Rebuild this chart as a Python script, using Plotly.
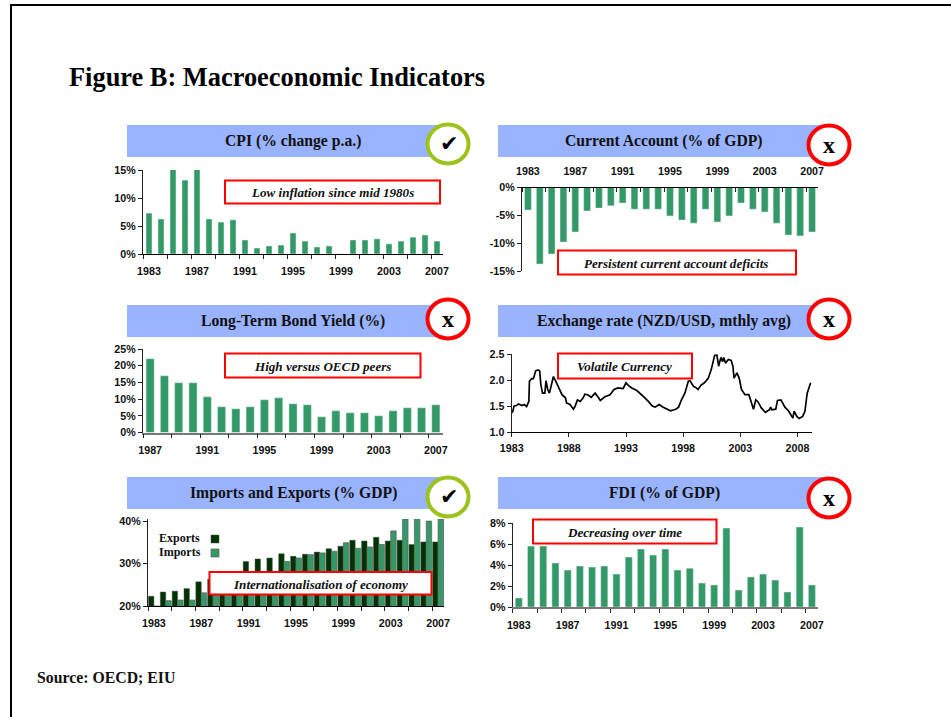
import plotly.graph_objects as go

W, H = 951, 717
GREEN = "#339966"
DARK = "#003300"
HEADER = "#99B3FF"
SANS = "Liberation Sans"
SERIF = "Liberation Serif"

years_83 = list(range(1983, 2008))
years_87 = list(range(1987, 2008))

cpi = [7.3, 6.25, 15.4, 13.2, 15.4, 6.25, 5.7, 6.1, 2.5, 1.07, 1.43, 1.6, 3.75, 2.3, 1.25, 1.43, 0, 2.5, 2.5, 2.7, 1.8, 2.3, 3.0, 3.4, 2.3]
current_account = [-4.06, -13.75, -11.95, -9.8, -8.0, -4.2, -3.7, -3.3, -2.8, -3.9, -3.9, -3.9, -5.1, -5.85, -6.4, -3.9, -6.2, -5.1, -2.8, -3.9, -4.4, -6.4, -8.55, -8.7, -8.0]
bond_yield = [22.1, 17, 14.9, 14.9, 10.7, 7.7, 7.1, 7.7, 9.8, 10.4, 8.6, 8.3, 4.7, 6.5, 5.9, 5.9, 5, 6.5, 7.4, 7.4, 8.3]
exports = [22.3, 23.3, 23.5, 24.1, 25.7, 26.3, 27.0, 27.8, 30.5, 31.1, 31.3, 32.3, 31.7, 32.2, 32.7, 33.5, 34.1, 35.5, 35.3, 36.2, 35.3, 35.5, 34.5, 35.1, 35.1]
imports = [20.0, 21.25, 21.4, 21.4, 23.1, 24.5, 25.2, 26.0, 26.8, 27.3, 28.0, 30.5, 31.3, 32.1, 32.5, 32.9, 34.9, 33.6, 33.9, 34.5, 37.7, 40.5, 40.5, 40.0, 40.5]
fdi = [0.86, 5.8, 5.8, 4.2, 3.52, 3.9, 3.8, 3.9, 3.14, 4.76, 5.52, 4.95, 5.52, 3.52, 3.7, 2.28, 2.1, 7.52, 1.62, 2.86, 3.14, 2.57, 1.43, 7.62, 2.1]

fx_dates = [1983.0, 1983.1, 1983.2, 1983.4, 1983.6, 1983.9, 1984.1, 1984.3, 1984.5, 1984.55, 1984.75, 1984.9, 1985.1, 1985.3, 1985.45, 1985.55, 1985.7, 1985.9, 1986.0, 1986.15, 1986.3, 1986.4, 1986.65, 1986.85, 1987.1, 1987.4, 1987.7, 1987.8, 1988.1, 1988.4, 1988.55, 1988.75, 1989.0, 1989.25, 1989.4, 1989.65, 1989.95, 1990.3, 1990.6, 1990.75, 1991.15, 1991.6, 1991.95, 1992.3, 1992.75, 1993.0, 1993.2, 1993.5, 1993.95, 1994.4, 1994.65, 1994.95, 1995.3, 1995.55, 1995.9, 1996.25, 1996.6, 1996.9, 1997.35, 1997.6, 1997.85, 1998.15, 1998.45, 1998.6, 1998.9, 1999.1, 1999.3, 1999.55, 1999.9, 2000.2, 2000.45, 2000.6, 2000.75, 2000.95, 2001.1, 2001.3, 2001.45, 2001.55, 2001.7, 2001.95, 2002.2, 2002.35, 2002.45, 2002.7, 2002.9, 2003.1, 2003.4, 2003.75, 2003.95, 2004.15, 2004.35, 2004.55, 2004.85, 2005.2, 2005.55, 2005.65, 2005.75, 2006.1, 2006.25, 2006.55, 2006.9, 2007.2, 2007.6, 2007.7, 2007.95, 2008.15, 2008.45, 2008.65, 2008.85, 2008.95, 2009.15]
fx_rates = [1.37, 1.40, 1.50, 1.51, 1.54, 1.51, 1.53, 1.49, 1.59, 1.98, 2.03, 2.03, 2.18, 2.20, 2.18, 1.91, 1.75, 1.75, 1.99, 1.82, 1.75, 1.85, 2.07, 1.98, 1.85, 1.72, 1.66, 1.56, 1.53, 1.44, 1.50, 1.62, 1.59, 1.66, 1.73, 1.72, 1.67, 1.75, 1.66, 1.61, 1.68, 1.72, 1.82, 1.85, 1.84, 1.95, 1.90, 1.85, 1.80, 1.72, 1.66, 1.59, 1.50, 1.48, 1.53, 1.48, 1.45, 1.41, 1.44, 1.48, 1.62, 1.75, 1.98, 1.99, 1.88, 1.86, 1.82, 1.90, 1.96, 2.04, 2.20, 2.36, 2.48, 2.49, 2.27, 2.44, 2.36, 2.44, 2.33, 2.40, 2.38, 2.27, 2.04, 2.14, 2.04, 1.82, 1.72, 1.72, 1.59, 1.44, 1.62, 1.58, 1.46, 1.38, 1.43, 1.48, 1.43, 1.44, 1.61, 1.62, 1.48, 1.41, 1.27, 1.40, 1.30, 1.26, 1.30, 1.40, 1.75, 1.82, 1.95]

labels_83 = [1983, 1987, 1991, 1995, 1999, 2003, 2007]
labels_87 = [1987, 1991, 1995, 1999, 2003, 2007]
labels_fx = [1983, 1988, 1993, 1998, 2003, 2008]

def px_x(x):
    return x / W

def px_y(y):
    return 1 - y / H

tick_font = dict(family=SANS, size=10.7, color="#111111", weight=700)
shapes, annotations = [], []
fig = go.Figure()


def text(x, y, s, size, family=SERIF, anchor="center", weight=700, style="normal", color="#111111"):
    annotations.append(dict(xref="paper", yref="paper", x=px_x(x), y=px_y(y), text=s, showarrow=False,
                            xanchor=anchor, yanchor="middle",
                            font=dict(family=family, size=size, weight=weight, style=style, color=color)))


def add_axes(n, left, right, top, bottom, xr, yr, yvals, ytext, xvals, xminor=None, side="bottom",
             axis_color="#000000", axis_width=1.2):
    suffix = "" if n == 1 else str(n)
    xa = dict(domain=[px_x(left), px_x(right)], range=xr, anchor="y" + suffix, side=side, automargin=False,
              tickmode="array", tickvals=xvals, ticktext=[str(v) for v in xvals], tickfont=tick_font,
              showgrid=False, zeroline=False, showline=True, linecolor=axis_color, linewidth=axis_width,
              ticklabelstandoff=7 if xminor else 2)
    if xminor:
        xa.update(ticks="", minor=dict(tickmode="array", tickvals=xminor, ticks="outside" if side == "bottom" else "inside",
                                       ticklen=4, tickwidth=1, tickcolor="#222222", showgrid=False))
    else:
        xa.update(ticks="outside", ticklen=4, tickwidth=1, tickcolor="#222222")
    ya = dict(domain=[px_y(bottom), px_y(top)], range=yr, anchor="x" + suffix, automargin=False,
              tickmode="array", tickvals=yvals, ticktext=ytext, tickfont=tick_font,
              ticks="outside", ticklen=4, tickwidth=1, tickcolor="#222222",
              showgrid=False, zeroline=False, showline=True, linecolor="#222222", linewidth=1.2)
    fig.layout["xaxis" + suffix] = xa
    fig.layout["yaxis" + suffix] = ya
    return "x" + suffix, "y" + suffix


def boundaries(first, last):
    out, v = [], first - 0.5
    while v <= last + 0.5:
        out.append(v)
        v += 2
    return out


def header(x0, y0, s, cx, circle_cx, circle_cy, good):
    shapes.append(dict(type="rect", xref="paper", yref="paper", layer="above", x0=px_x(x0), x1=px_x(circle_cx),
                       y0=px_y(y0 + 32), y1=px_y(y0), fillcolor=HEADER, line=dict(width=0)))
    shapes.append(dict(type="circle", xref="paper", yref="paper", layer="above",
                       x0=px_x(circle_cx - 20.5), x1=px_x(circle_cx + 20.5),
                       y0=px_y(circle_cy + 19.5), y1=px_y(circle_cy - 19.5), fillcolor="white",
                       line=dict(color="#9BC31C" if good else "#FF0000", width=4)))
    text(cx, y0 + 16, s, 15.7)
    if good:
        text(circle_cx + 0.5, circle_cy - 1, "\u2714", 22, family="DejaVu Sans", color="#000000")
    else:
        text(circle_cx, circle_cy, "x", 24, color="#000000")


def callout(x0, x1, y0, y1, s, cx, cy):
    shapes.append(dict(type="rect", xref="paper", yref="paper", layer="above", x0=px_x(x0), x1=px_x(x1),
                       y0=px_y(y1), y1=px_y(y0), fillcolor="white", line=dict(color="#FF0000", width=2)))
    text(cx, cy, s, 13.1, style="italic")


# CPI
xa, ya = add_axes(1, 143, 443, 170, 254, [1982.5, 2007.5], [0, 15], [0, 5, 10, 15], ["0%", "5%", "10%", "15%"],
                  labels_83, boundaries(1983, 2007))
fig.add_bar(x=years_83, y=cpi, xaxis=xa, yaxis=ya, marker_color=GREEN, width=0.5, cliponaxis=False)

# Current account
xa, ya = add_axes(2, 522, 818, 187.5, 271, [1982.5, 2007.5], [-15, 0], [0, -5, -10, -15], ["0%", "-5%", "-10%", "-15%"],
                  labels_83, boundaries(1983, 2007), side="top")
fig.add_bar(x=years_83, y=current_account, xaxis=xa, yaxis=ya, marker_color=GREEN, width=0.58)

# Bond yield
xa, ya = add_axes(3, 143, 443, 349, 432.5, [1986.5, 2007.5], [0, 25], [0, 5, 10, 15, 20, 25],
                  ["0%", "5%", "10%", "15%", "20%", "25%"], labels_87, boundaries(1987, 2007),
                  axis_color="#777777", axis_width=1.6)
fig.add_bar(x=years_87, y=bond_yield, xaxis=xa, yaxis=ya, marker_color=GREEN, width=0.57)

# Exchange rate
xa, ya = add_axes(4, 511.7, 812, 354.3, 432, [1983, 2009.27], [1, 2.5], [1, 1.5, 2, 2.5], ["1.0", "1.5", "2.0", "2.5"],
                  labels_fx)
fig.add_scatter(x=fx_dates, y=fx_rates, xaxis=xa, yaxis=ya, mode="lines", line=dict(color="#000000", width=1.7), cliponaxis=False)

# Imports and exports
xa, ya = add_axes(5, 148, 444, 519, 606, [1982.5, 2007.5], [20, 40.5], [20, 30, 40], ["20%", "30%", "40%"],
                  labels_83, boundaries(1983, 2007))
fig.add_bar(x=[y - 0.23 for y in years_83], y=exports, xaxis=xa, yaxis=ya, marker=dict(color=DARK, line=dict(color="#555555", width=0.5)), width=0.46)
fig.add_bar(x=[y + 0.23 for y in years_83], y=imports, xaxis=xa, yaxis=ya, marker=dict(color=GREEN, line=dict(color="#666666", width=0.8)), width=0.46)

# FDI
xa, ya = add_axes(6, 512.7, 818, 523, 607, [1982.5, 2007.5], [0, 8], [0, 2, 4, 6, 8], ["0%", "2%", "4%", "6%", "8%"],
                  labels_83, boundaries(1983, 2007), axis_color="#777777", axis_width=1.6)
fig.add_bar(x=years_83, y=fdi, xaxis=xa, yaxis=ya, marker_color=GREEN, width=0.58)

# Page frame
shapes.append(dict(type="line", xref="paper", yref="paper", x0=px_x(11), x1=px_x(11), y0=0, y1=px_y(4.5), line=dict(color="black", width=2)))
shapes.append(dict(type="line", xref="paper", yref="paper", x0=px_x(10), x1=1, y0=px_y(5), y1=px_y(5), line=dict(color="black", width=2)))

header(127, 125, "CPI (% change p.a.)", 293, 448, 144, True)
header(498, 125, "Current Account (% of GDP)", 664, 829, 145, False)
header(127, 305, "Long-Term Bond Yield (%)", 293, 448, 319, False)
header(498, 305, "Exchange rate (NZD/USD, mthly avg)", 664, 829, 319, False)
header(127, 477, "Imports and Exports (% GDP)", 293, 448, 497, True)
header(498, 477, "FDI (% of GDP)", 664, 829, 498, False)

callout(225, 440, 180.5, 203.5, "Low inflation since mid 1980s", 332, 192)
callout(558, 796, 250.5, 274.5, "Persistent current account deficits", 676, 263)
callout(225, 420.5, 353.5, 377.5, "High versus OECD peers", 322, 367)
callout(558, 692, 353.5, 378.5, "Volatile Currency", 624, 366.5)
callout(209.5, 431.5, 572, 594.5, "Internationalisation of economy", 320, 584)
callout(533, 716.5, 519.5, 543.5, "Decreasing over time", 624, 532)

# Imports/exports key
text(157, 538, "Exports", 12, anchor="left")
text(157, 552, "Imports", 12, anchor="left")
shapes.append(dict(type="rect", xref="paper", yref="paper", layer="above", x0=px_x(211), x1=px_x(219), y0=px_y(543), y1=px_y(535), fillcolor=DARK, line=dict(color="#555555", width=0.5)))
shapes.append(dict(type="rect", xref="paper", yref="paper", layer="above", x0=px_x(211), x1=px_x(219), y0=px_y(557), y1=px_y(549), fillcolor=GREEN, line=dict(color="#666666", width=0.8)))

text(67, 77, "Figure B: Macroeconomic Indicators", 26.4, anchor="left", color="#000000")
text(35, 677, "Source: OECD; EIU", 15.8, anchor="left")

fig.update_layout(width=W, height=H, margin=dict(l=0, r=0, t=0, b=0), paper_bgcolor="white", plot_bgcolor="white",
                  showlegend=False, barmode="overlay", shapes=shapes, annotations=annotations)
fig.write_html("out.html", config=dict(displayModeBar=False),
               post_script="document.body.style.margin='0';document.documentElement.style.overflow='hidden';")
